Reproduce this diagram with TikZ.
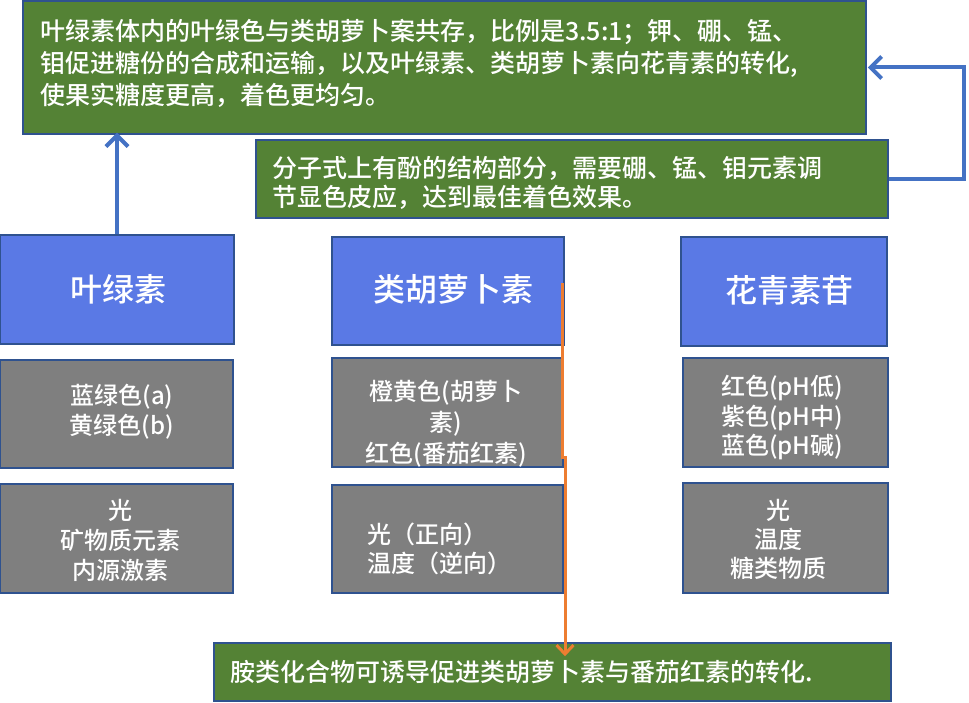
\documentclass[tikz,border=0pt]{standalone}
\usepackage{fontspec}
\setmainfont{Noto Sans CJK SC}[UprightFont={* Medium}]
\usetikzlibrary{arrows.meta}
\definecolor{bluefill}{RGB}{90,121,229}
\definecolor{edgeblue}{RGB}{47,82,143}
\definecolor{grayfill}{RGB}{127,127,127}
\definecolor{greenfill}{RGB}{84,130,53}
\definecolor{arrowblue}{RGB}{68,114,196}
\definecolor{arroworange}{RGB}{237,125,49}
\tikzset{
  boxbase/.style={draw=edgeblue, line width=1.5pt, inner sep=0pt, anchor=center},
  bluebox/.style={boxbase, fill=bluefill},
  graybox/.style={boxbase, fill=grayfill},
  greenbox/.style={boxbase, fill=greenfill},
  wtext/.style={text=white, inner sep=0pt},
  bigtext/.style={wtext, font=\fontsize{32pt}{38pt}\selectfont},
  midtext/.style={wtext, font=\fontsize{24pt}{30pt}\selectfont},
  greentext/.style={wtext, font=\fontsize{25pt}{32pt}\selectfont},
  bluearrow/.style={draw=arrowblue, line width=4pt, -{Straight Barb[length=11pt,width=22pt,line width=4pt]}},
  orangearrow/.style={draw=arroworange, line width=3pt, -{Straight Barb[length=9pt,width=17pt,line width=3pt]}}
}
\begin{document}
\begin{tikzpicture}[x=1pt,y=-1pt]
\useasboundingbox (0,0) rectangle (969,703);
% green boxes
\node[greenbox, minimum width=843pt, minimum height=133pt] (top) at (444.5,67.5) {};
\node[greentext, anchor=west, align=left] (toptxt) at (40,63)
  {叶绿素体内的叶绿色与类胡萝卜案共存，比例是3.5:1；钾、硼、锰、\\钼促进糖份的合成和运输，以及叶绿素、类胡萝卜素向花青素的转化,\\使果实糖度更高，着色更均匀。};
\node[greenbox, minimum width=632pt, minimum height=78pt] (mid) at (572,179) {};
\node[greentext, anchor=west, align=left, font=\fontsize{25pt}{29pt}\selectfont] (midtxt) at (272,182.5)
  {分子式上有酚的结构部分，需要硼、锰、钼元素调\\节显色皮应，达到最佳着色效果。};
\node[greenbox, minimum width=677pt, minimum height=58pt] (bot) at (552.5,672) {};
\node[greentext, anchor=west] (bottxt) at (230,672)
  {胺类化合物可诱导促进类胡萝卜素与番茄红素的转化.};
% blue boxes
\node[bluebox, minimum width=234pt, minimum height=109pt] (b1) at (117,289.5) {};
\node[bigtext] (b1t) at (118.5,289) {叶绿素};
\node[bluebox, minimum width=232pt, minimum height=108pt] (b2) at (448,291) {};
\node[bigtext] (b2t) at (453.5,289) {类胡萝卜素};
\node[bluebox, minimum width=206pt, minimum height=109pt] (b3) at (784,291.5) {};
\node[bigtext] (b3t) at (789,290) {花青素苷};
% gray boxes, first row
\node[graybox, minimum width=233pt, minimum height=108pt] (g1a) at (116.5,414) {};
\node[midtext, align=center] (g1at) at (122,412) {蓝绿色(a)\\黄绿色(b)};
\node[graybox, minimum width=231pt, minimum height=109pt] (g1b) at (447.5,412.5) {};
\node[midtext, align=center, font=\fontsize{24pt}{31pt}\selectfont] (g1bt) at (446,424) {橙黄色(胡萝卜\\素)\\红色(番茄红素)};
\node[graybox, minimum width=205pt, minimum height=109pt] (g1c) at (785.5,412.5) {};
\node[midtext, align=center, font=\fontsize{24pt}{29.5pt}\selectfont] (g1ct) at (782,417.5) {红色(pH低)\\紫色(pH中)\\蓝色(pH碱)};
% gray boxes, second row
\node[graybox, minimum width=233pt, minimum height=109pt] (g2a) at (116.5,538.5) {};
\node[midtext, align=center] (g2at) at (120.5,540) {光\\矿物质元素\\内源激素};
\node[graybox, minimum width=231pt, minimum height=108pt] (g2b) at (447.5,539) {};
\node[midtext, align=left, anchor=west, font=\fontsize{24pt}{28.5pt}\selectfont] (g2bt) at (367,549) {光（正向）\\温度（逆向）};
\node[graybox, minimum width=205pt, minimum height=110pt] (g2c) at (785.5,538) {};
\node[midtext, align=center, font=\fontsize{24pt}{29pt}\selectfont] (g2ct) at (778,539) {光\\温度\\糖类物质};
% connectors
\draw[bluearrow] (b1.north) -- ([yshift=2pt]b1.north |- top.south);
\coordinate (rx) at (964,0);
\draw[bluearrow] (mid.east) -| (rx |- top.east) -- ([xshift=1pt]top.east);
\coordinate (o1) at (562.5,283);
\coordinate (o2) at (562.5,457);
\coordinate (o3) at (565,457);
\draw[orangearrow] (o1) -- (o2) -- (o3) -- ([yshift=-14pt]o3 |- bot.north);
\end{tikzpicture}
\end{document}
